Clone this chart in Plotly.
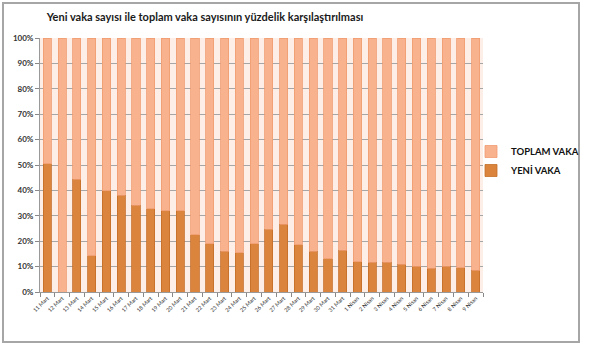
import plotly.graph_objects as go

dates = ["11 Mart", "12 Mart", "13 Mart", "14 Mart", "15 Mart", "16 Mart", "17 Mart", "18 Mart",
         "19 Mart", "20 Mart", "21 Mart", "22 Mart", "23 Mart", "24 Mart", "25 Mart", "26 Mart",
         "27 Mart", "28 Mart", "29 Mart", "30 Mart", "31 Mart", "1 Nisan", "2 Nisan", "3 Nisan",
         "4 Nisan", "5 Nisan", "6 Nisan", "7 Nisan", "8 Nisan", "9 Nisan"]
yeni_vaka = [50.4, 0.0, 44.4, 14.3, 39.8, 38.1, 34.2, 32.8, 32.0, 32.0, 22.5, 18.9, 16.0, 15.5, 18.9,
             24.8, 26.6, 18.7, 16.1, 13.0, 16.5, 12.0, 11.7, 11.7, 10.9, 10.1, 9.3, 10.1, 9.6, 8.5]
toplam_vaka = [49.6, 100.0, 55.6, 85.7, 60.2, 61.9, 65.8, 67.2, 68.0, 68.0, 77.5, 81.1, 84.0, 84.5, 81.1,
               75.2, 73.4, 81.3, 83.9, 87.0, 83.5, 88.0, 88.3, 88.3, 89.1, 89.9, 90.7, 89.9, 90.4, 91.5]
y_ticks = [0, 10, 20, 30, 40, 50, 60, 70, 80, 90, 100]
y_labels = ["<b>0%</b>", "<b>10%</b>", "<b>20%</b>", "<b>30%</b>", "<b>40%</b>", "<b>50%</b>",
            "<b>60%</b>", "<b>70%</b>", "<b>80%</b>", "<b>90%</b>", "<b>100%</b>"]

fig = go.Figure()
fig.add_trace(go.Bar(x=dates, y=yeni_vaka, name="<b>YENİ VAKA</b>",
                     marker=dict(color="#DB843D", line=dict(color="#C46E28", width=0.8))))
fig.add_trace(go.Bar(x=dates, y=toplam_vaka, name="<b>TOPLAM VAKA</b>",
                     marker=dict(color="#F8B28E", line=dict(color="#F09B70", width=0.8))))

L, R, T, B = 40, 131, 38, 54
W, H = 614, 346
pw, ph = W - L - R, H - T - B

def px_x(p):
    return (p - L) / pw

def px_y(p):
    return (H - B - p) / ph

fig.update_layout(
    width=W, height=H,
    margin=dict(l=L, r=R, t=T, b=B),
    barmode="stack", barnorm="percent", bargap=0.45,
    paper_bgcolor="white", plot_bgcolor="#FDEEE7",
    font=dict(family="Lato", color="#262626"),
    title=dict(text="<b>Yeni vaka sayısı ile toplam vaka sayısının yüzdelik karşılaştırılması</b>",
               xref="container", x=205 / W, xanchor="center", yref="container",
               y=1 - 17 / H, yanchor="middle",
               font=dict(size=11, family="Lato", color="#1a1a1a")),
    legend=dict(x=px_x(471), y=px_y(137), xanchor="left", yanchor="top",
                traceorder="reversed", font=dict(size=9.5, family="Lato", color="#111"),
                itemwidth=30, tracegroupgap=2, bgcolor="rgba(0,0,0,0)"),
    showlegend=True,
    xaxis=dict(type="category", tickangle=-45, tickfont=dict(size=5.5, color="#333"),
               tickson="boundaries", ticks="outside", ticklen=4, tickcolor="#888",
               showline=True, linecolor="#999", linewidth=1, showgrid=False),
    yaxis=dict(range=[0, 100], tickvals=y_ticks, ticktext=y_labels,
               tickfont=dict(size=8, color="#333", family="Lato"),
               ticks="outside", ticklen=4, tickcolor="#888",
               showline=True, linecolor="#999", linewidth=1,
               showgrid=True, gridcolor="#A6A6A6", gridwidth=0.8, zeroline=False),
    shapes=[dict(type="rect", xref="paper", yref="paper",
                 x0=px_x(3), x1=px_x(579), y0=px_y(342), y1=px_y(3),
                 line=dict(color="#A6A6A6", width=2), layer="below")],
)

fig.write_html("out.html")
